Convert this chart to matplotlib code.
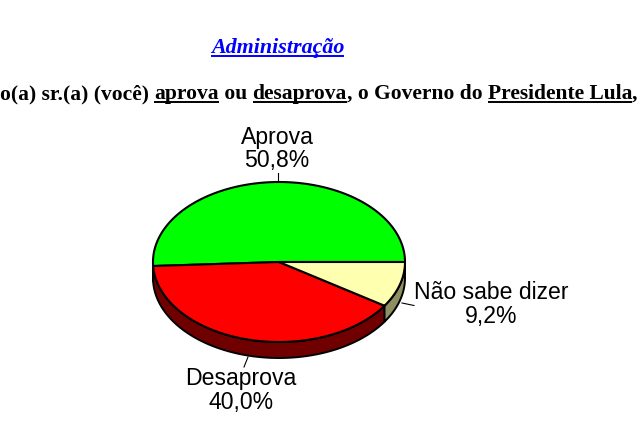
import numpy as np
import matplotlib
matplotlib.use('Agg')
import matplotlib.pyplot as plt
from matplotlib.patches import Polygon

# values in percent, going round from 3 o'clock over the top
labels = ['Aprova', 'Desaprova', 'Não sabe dizer']
values = [50.8, 40.0, 9.2]
value_labels = ['50,8%', '40,0%', '9,2%']
top_colors = ['#00ff00', '#ff0000', '#ffffb0']
side_colors = ['#008000', '#700000', '#8f8f62']

title = 'Administração'
# (text, underlined)
question = [('o(a) sr.(a) (você) ', False), ('aprova', True), (' ou ', False),
            ('desaprova', True), (', o Governo do ', False),
            ('Presidente Lula', True), (', p', False)]

CX, CY, RX, RY, DEPTH = 279, 262, 126, 80, 16


def ellipse_points(a1, a2):
    a = np.radians(np.linspace(a1, a2, 200))
    return CX + RX * np.cos(a), CY + RY * np.sin(a)


def text_width(ax, renderer, text, **kw):
    # trailing spaces are not measured, so measure with a closing char
    t = ax.text(0, 0, text + '|', **kw)
    w = t.get_window_extent(renderer).width
    t.set_text('|')
    w -= t.get_window_extent(renderer).width
    t.remove()
    return w


def underlined_text(ax, renderer, x, y, text, color, underline, **kw):
    ax.text(x, y, text, color=color, va='baseline', ha='left', **kw)
    w = text_width(ax, renderer, text, **kw)
    if underline:
        ax.plot([x, x + w], [y + 3, y + 3], color=color, lw=1.4, solid_capstyle='butt')
    return x + w


fig = plt.figure(figsize=(6.43, 4.29), dpi=100)
ax = fig.add_axes([0, 0, 1, 1])
ax.set_xlim(0, 643)
ax.set_ylim(429, 0)
ax.axis('off')
renderer = fig.canvas.get_renderer()

# y goes down on this axes, so angles run backwards from 360
edges = 360 - np.cumsum([0] + values) * 3.6
slices = [(edges[i + 1], edges[i], top_colors[i], side_colors[i]) for i in range(len(values))]

for start, end, top, side in slices:
    # the side wall only shows for the front half (0..180 on screen)
    lo, hi = max(start, 0), min(end, 180)
    if hi > lo:
        xs, ys = ellipse_points(lo, hi)
        pts = np.r_[np.c_[xs, ys], np.c_[xs[::-1], ys[::-1] + DEPTH]]
        ax.add_patch(Polygon(pts, closed=True, fc=side, ec='black', lw=1.4, zorder=2))

for start, end, top, side in slices:
    xs, ys = ellipse_points(start, end)
    pts = np.r_[[[CX, CY]], np.c_[xs, ys]]
    ax.add_patch(Polygon(pts, closed=True, fc=top, ec='black', lw=1.5,
                         joinstyle='round', zorder=3))

# leader lines and labels
leaders = [((278, 182), (278, 173)), ((248, 357), (244, 367)), ((402, 303), (414, 305.5))]
label_pos = [(277, 137.5), (241, 378.5), (491, 292.5)]
for name, val, lead, pos in zip(labels, value_labels, leaders, label_pos):
    ax.plot(*zip(*lead), color='black', lw=0.8, zorder=1)
    ax.text(pos[0], pos[1], name, ha='center', va='center', fontsize=16.6,
            family='Liberation Sans', color='black')
    ax.text(pos[0], pos[1] + 23.5, val, ha='center', va='center', fontsize=16.6,
            family='Liberation Sans', color='black')

# headings
underlined_text(ax, renderer, 211, 53, title, '#0000ff', True, fontsize=15.8,
                family='Liberation Serif', style='italic', weight='bold')
x = 0
for part, under in question:
    x = underlined_text(ax, renderer, x, 99, part, 'black', under, fontsize=15.5,
                        family='Liberation Serif', weight='bold')

fig.savefig('out.png', dpi=100)
